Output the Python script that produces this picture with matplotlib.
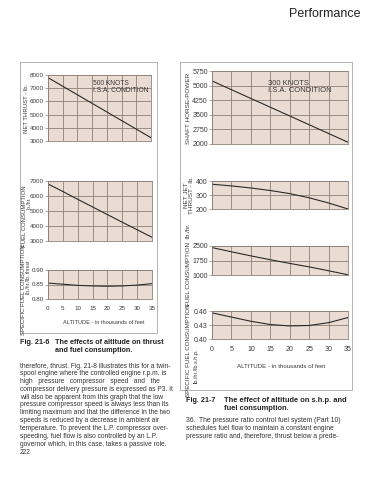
import numpy as np
import matplotlib.pyplot as plt
from matplotlib.patches import Rectangle

plt.rcParams['font.family'] = ['Liberation Sans', 'DejaVu Sans']

altitude = [0, 5, 10, 15, 20, 25, 30, 35]

# Fig. 21-6 : 500 noeuds
net_thrust = [7800, 7150, 6500, 5850, 5200, 4550, 3900, 3250]
fuel_flow = [6800, 6300, 5780, 5270, 4760, 4250, 3750, 3250]
sfc_thrust = [0.855, 0.851, 0.847, 0.845, 0.844, 0.845, 0.848, 0.853]

# Fig. 21-7 : 300 noeuds
shaft_hp = [5240, 4790, 4340, 3890, 3440, 2990, 2540, 2090]
jet_thrust = [377, 365, 350, 332, 310, 280, 243, 200]
fuel_flow_tp = [2420, 2200, 1990, 1790, 1600, 1420, 1220, 1010]
sfc_shp = [0.456, 0.447, 0.438, 0.431, 0.428, 0.429, 0.435, 0.446]

W, H = 370, 480
FOND = '#ebdcd3'
GRILLE = '#8e807a'
TEXTE = '#3a3a3a'

fig = plt.figure(figsize=(3.7, 4.8), dpi=100)


def axe(x0, y0, x1, y1):
    return fig.add_axes([x0 / W, 1 - y1 / H, (x1 - x0) / W, (y1 - y0) / H])


def txt(x, y, s, **kw):
    kw.setdefault('color', TEXTE)
    kw.setdefault('fontsize', 4.5)
    fig.text(x / W, 1 - y / H, s, **kw)


def panneau(box, y, yticks, ylabels, bas=False, taille=4.5):
    ax = axe(*box)
    ax.set_facecolor(FOND)
    ax.plot(altitude, y, color='#2a2a2a', lw=0.8)
    ax.set_xlim(0, 35)
    ax.set_ylim(yticks[0], yticks[-1])
    ax.set_xticks(range(0, 36, 5))
    ax.set_yticks(yticks, ylabels)
    ax.grid(True, color=GRILLE, lw=0.6)
    ax.set_axisbelow(True)
    for s in ax.spines.values():
        s.set_color(GRILLE)
        s.set_linewidth(0.6)
    ax.tick_params(axis='y', length=2.5, width=0.5, color=GRILLE, pad=0.5,
                   labelsize=taille, labelcolor=TEXTE)
    ax.tick_params(axis='x', length=0, pad=5, labelsize=taille, labelcolor=TEXTE,
                   labelbottom=bas)
    return ax


# cadres
for (x0, y0, x1, y1) in [(20, 62, 157, 333), (180, 62, 352, 390)]:
    fig.add_artist(Rectangle((x0 / W, 1 - y1 / H), (x1 - x0) / W, (y1 - y0) / H,
                             transform=fig.transFigure, fill=False,
                             ec='#a8a8a8', lw=0.6))

# Fig. 21-6
panneau((48, 75, 151, 141), net_thrust, [3000, 4000, 5000, 6000, 7000, 8000],
        ['3000', '4000', '5000', '6000', '7000', '8000'])
panneau((48, 181, 152, 241), fuel_flow, [3000, 4000, 5000, 6000, 7000],
        ['3000', '4000', '5000', '6000', '7000'])
panneau((48, 270, 152, 299), sfc_thrust, [0.80, 0.85, 0.90],
        ['0.80', '0.85', '0.90'], bas=True)

txt(93, 87, '500 KNOTS\nI.S.A. CONDITION', fontsize=4.8, va='center', linespacing=1.0)
txt(27, 108, 'NET THRUST - lb.', rotation=90, ha='center', va='center', fontsize=4.3)
txt(24, 216, 'FUEL CONSUMPTION', rotation=90, ha='center', va='center', fontsize=4.3)
txt(29, 203, 'lb./hr.', rotation=90, ha='center', va='center', fontsize=3.6)
txt(24, 290, 'SPECIFIC FUEL CONSUMPTION', rotation=90, ha='center', va='center',
    fontsize=4.3)
txt(29, 277, 'lb./hr./lb. thrust', rotation=90, ha='center', va='center',
    fontsize=3.6)
txt(104, 323, 'ALTITUDE - in thousands of feet', ha='center', va='center', fontsize=4.1)

# Fig. 21-7
panneau((212, 71, 348, 144), shaft_hp, [2000, 2750, 3500, 4250, 5000, 5750],
        ['2000', '2750', '3500', '4250', '5000', '5750'], taille=5.0)
panneau((212, 181, 348, 209), jet_thrust, [200, 300, 400], ['200', '300', '400'],
        taille=5.0)
panneau((212, 246, 348, 275), fuel_flow_tp, [1000, 1750, 2500],
        ['1000', '1750', '2500'], taille=5.0)
panneau((212, 311, 348, 339), sfc_shp, [0.40, 0.43, 0.46],
        ['0.40', '0.43', '0.46'], bas=True, taille=5.0)

txt(268, 87, '300 KNOTS\nI.S.A. CONDITION', fontsize=5.5, va='center', linespacing=1.0)
txt(189, 108, 'SHAFT HORSE-POWER', rotation=90, ha='center', va='center', fontsize=4.6)
txt(189, 195, 'NET JET\nTHRUST - lb.', rotation=90, ha='center', va='center',
    linespacing=1.0, fontsize=4.6)
txt(188, 265, 'FUEL CONSUMPTION  lb./hr.', rotation=90, ha='center', va='center',
    fontsize=4.5)
txt(188, 350, 'SPECIFIC FUEL CONSUMPTION', rotation=90, ha='center', va='center',
    fontsize=4.4)
txt(196, 366, 'lb./hr./lb.s.h.p.', rotation=90, ha='center', va='center', fontsize=4.0)
txt(281, 367, 'ALTITUDE - in thousands of feet', ha='center', va='center', fontsize=4.4)

# légendes et texte de la page
txt(360, 14, 'Performance', fontsize=9, ha='right', va='center', color='#222222')

txt(20, 343, 'Fig. 21-6', fontsize=5.2, fontweight='bold', va='center', color='#222222')
txt(55, 343, 'The effects of altitude on thrust', fontsize=5.2, fontweight='bold',
    va='center', color='#222222')
txt(55, 351, 'and fuel consumption.', fontsize=5.2, fontweight='bold', va='center',
    color='#222222')

txt(186, 401, 'Fig. 21-7', fontsize=5.2, fontweight='bold', va='center', color='#222222')
txt(224, 401, 'The effect of altitude on s.h.p. and', fontsize=5.4, fontweight='bold',
    va='center', color='#222222')
txt(224, 409, 'fuel consumption.', fontsize=5.4, fontweight='bold', va='center',
    color='#222222')

corps = [
    'therefore, thrust. Fig. 21-8 illustrates this for a twin-',
    'spool engine where the controlled engine r.p.m. is',
    'high   pressure   compressor   speed   and   the',
    'compressor delivery pressure is expressed as P3. It',
    'will also be apparent from this graph that the low',
    'pressure compressor speed is always less than its',
    'limiting maximum and that the difference in the two',
    'speeds is reduced by a decrease in ambient air',
    'temperature. To prevent the L.P. compressor over-',
    'speeding, fuel flow is also controlled by an L.P.',
    'governor which, in this case, takes a passive role.',
]
for i, ligne in enumerate(corps):
    txt(20, 366 + i * 7.8, ligne, fontsize=4.8, va='center', color='#333333')
txt(20, 453, '222', fontsize=4.8, va='center', color='#333333')

droite = [
    '36.  The pressure ratio control fuel system (Part 10)',
    'schedules fuel flow to maintain a constant engine',
    'pressure ratio and, therefore, thrust below a prede-',
]
for i, ligne in enumerate(droite):
    txt(186, 420 + i * 8.4, ligne, fontsize=4.9, va='center', color='#333333')

fig.savefig('out.png', dpi=100)
